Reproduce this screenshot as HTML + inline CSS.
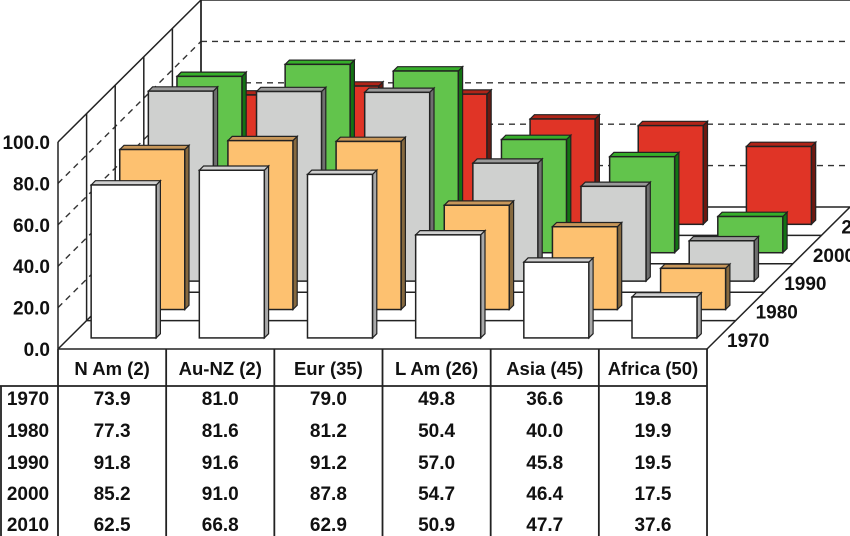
<!DOCTYPE html>
<html><head><meta charset="utf-8"><style>
html,body{margin:0;padding:0;background:#fff;}
svg{display:block;font-family:"Liberation Sans",Arial,sans-serif;}
</style></head><body>
<svg id="chart" width="850" height="536" viewBox="0 0 850 536" xmlns="http://www.w3.org/2000/svg">
<g id="walls"></g>
<g id="bars"></g>
<g id="table"></g>
</svg>
<script>
const categories = ["N Am (2)", "Au-NZ (2)", "Eur (35)", "L Am (26)", "Asia (45)", "Africa (50)"];
const years = ["1970", "1980", "1990", "2000", "2010"];
const v1970 = [73.9, 81.0, 79.0, 49.8, 36.6, 19.8];
const v1980 = [77.3, 81.6, 81.2, 50.4, 40.0, 19.9];
const v1990 = [91.8, 91.6, 91.2, 57.0, 45.8, 19.5];
const v2000 = [85.2, 91.0, 87.8, 54.7, 46.4, 17.5];
const v2010 = [62.5, 66.8, 62.9, 50.9, 47.7, 37.6];
const yTicks = [0, 20, 40, 60, 80, 100];
const yTickLabels = ["0.0", "20.0", "40.0", "60.0", "80.0", "100.0"];

const series = [v1970, v1980, v1990, v2000, v2010];
const NS = "http://www.w3.org/2000/svg";
const X0 = 58, Y0 = 349, CW = 108.17, DX = 28.6, DY = 28.4, VS = 2.07;
const colors = [
  {f:"#ffffff", s:"#a8a8a8", t:"#d0d0d0"},
  {f:"#fdc170", s:"#86693f", t:"#c8975a"},
  {f:"#cfd0cf", s:"#6f6f6f", t:"#9a9a9a"},
  {f:"#62c44c", s:"#137313", t:"#36ae2a"},
  {f:"#e03426", s:"#6e1810", t:"#b02418"}
];
function px(u, d) { return X0 + u + DX * d; }
function py(d, v) { return Y0 - DY * d - v * VS; }
function mk(tag, attrs, parent) {
  const e = document.createElementNS(NS, tag);
  for (const k in attrs) e.setAttribute(k, attrs[k]);
  parent.appendChild(e);
  return e;
}
const walls = document.getElementById("walls");
const bars = document.getElementById("bars");
const table = document.getElementById("table");
const R = years.length, W = categories.length * CW;
const SW = 1.5;

let l = mk("line", {x1: px(0,R), y1: py(R,100), x2: 850, y2: py(R,100), stroke:"#222", "stroke-width":SW}, walls);


l = mk("line", {x1: px(0,R), y1: py(R,0), x2: px(0,R), y2: py(R,100), stroke:"#222", "stroke-width":SW}, walls);


yTicks.forEach((v, i) => {
  if (v === 0 || v === 100) return;
  const g = mk("line", {x1: px(0,R), y1: py(R,v), x2: 850, y2: py(R,v), stroke:"#333", "stroke-width":1.4, "stroke-dasharray":"6,5"}, walls);
  
  
  const d = mk("line", {x1: px(0,0), y1: py(0,v), x2: px(0,R), y2: py(R,v), stroke:"#333", "stroke-width":1.4, "stroke-dasharray":"6,5"}, walls);
  
  
});
for (let k = 0; k <= R; k++) {
  const e = mk("line", {x1: px(0,k), y1: py(k,0), x2: px(0,k), y2: py(k,100), stroke:"#222", "stroke-width":SW}, walls);
  
  
}
l = mk("line", {x1: px(0,0), y1: py(0,100), x2: px(0,R), y2: py(R,100), stroke:"#222", "stroke-width":SW}, walls);


for (let k = 0; k <= R; k++) {
  const e = mk("line", {x1: px(0,k), y1: py(k,0), x2: Math.min(850, px(W,k)), y2: py(k,0), stroke:"#222", "stroke-width":SW}, walls);
  
  
}
l = mk("line", {x1: px(0,0), y1: py(0,0), x2: px(0,R), y2: py(R,0), stroke:"#222", "stroke-width":SW}, walls);


l = mk("line", {x1: px(W,0), y1: py(0,0), x2: px(W,R), y2: py(R,0), stroke:"#222", "stroke-width":SW}, walls);


years.forEach((y, r) => {
  const t = mk("text", {x: px(W,r) + 20, y: py(r,0) - 2, "font-size":19, "font-weight":"bold", fill:"#111"}, walls);
  t.textContent = y;
  
  
});
yTicks.forEach((v, i) => {
  const t = mk("text", {x: 50, y: py(0,v) + 7, "font-size":19, "font-weight":"bold", fill:"#111", "text-anchor":"end"}, walls);
  t.textContent = yTickLabels[i];
  
  
});
const T0 = 0.39, TD = 0.15, U0 = 22, BW = 65;
for (let r = R - 1; r >= 0; r--) {
  for (let c = categories.length - 1; c >= 0; c--) {
    const v = series[r][c], col = colors[r];
    const u1 = c * CW + U0, u2 = u1 + BW, d1 = r + T0, d2 = d1 + TD;
    const g = mk("g", {}, bars);
    
    
    const pts = a => a.map(p => p[0].toFixed(1) + "," + p[1].toFixed(1)).join(" ");
    mk("polygon", {points: pts([[px(u2,d1),py(d1,0)],[px(u2,d2),py(d2,0)],[px(u2,d2),py(d2,v)],[px(u2,d1),py(d1,v)]]), fill: col.s, stroke:"#222", "stroke-width":1.2}, g);
    mk("polygon", {points: pts([[px(u1,d1),py(d1,v)],[px(u2,d1),py(d1,v)],[px(u2,d2),py(d2,v)],[px(u1,d2),py(d2,v)]]), fill: col.t, stroke:"#222", "stroke-width":1.2}, g);
    mk("rect", {x: px(u1,d1), y: py(d1,v), width: BW, height: v * VS, fill: col.f, stroke:"#222", "stroke-width":1.5}, g);
  }
}
const rowY = [398, 430, 462, 493, 524];
l = mk("line", {x1: 0, y1: 386, x2: px(W,0), y2: 386, stroke:"#222", "stroke-width":1.8}, table);


l = mk("line", {x1: 1, y1: 386, x2: 1, y2: 536, stroke:"#222", "stroke-width":1.8}, table);


for (let c = 0; c <= categories.length; c++) {
  const e = mk("line", {x1: X0 + c * CW, y1: Y0, x2: X0 + c * CW, y2: 536, stroke:"#222", "stroke-width":1.8}, table);
  
  
}
categories.forEach((name, c) => {
  const t = mk("text", {x: X0 + (c + 0.5) * CW, y: 375, "font-size":18.5, "font-weight":"bold", fill:"#111", "text-anchor":"middle"}, table);
  t.textContent = name;
  
  
});
years.forEach((y, r) => {
  const t = mk("text", {x: 28, y: rowY[r] + 7, "font-size":19, "font-weight":"bold", fill:"#111", "text-anchor":"middle"}, table);
  t.textContent = y;
  
  
  series[r].forEach((v, c) => {
    const tv = mk("text", {x: X0 + (c + 0.5) * CW, y: rowY[r] + 7, "font-size":19, "font-weight":"bold", fill:"#111", "text-anchor":"middle"}, table);
    tv.textContent = v.toFixed(1);
    
    
  });
});
</script>
</body></html>
